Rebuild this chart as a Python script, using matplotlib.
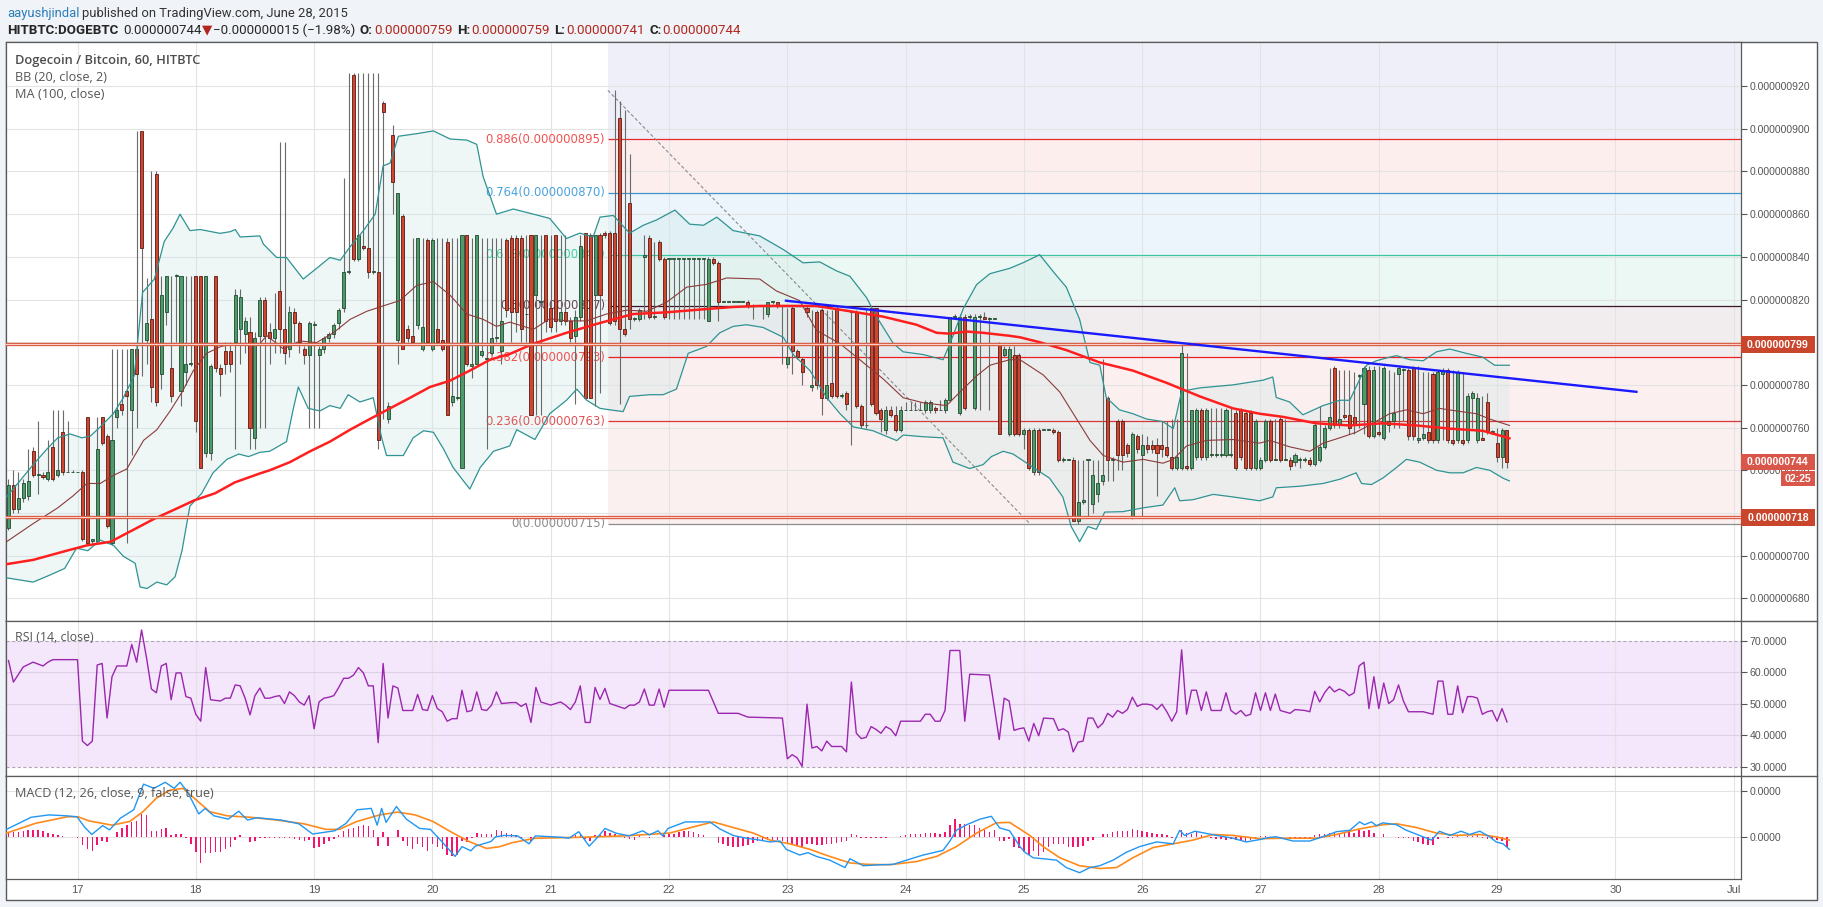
import numpy as np
import matplotlib
matplotlib.use("Agg")
import matplotlib.pyplot as plt
from matplotlib import font_manager
from matplotlib.patches import Rectangle, Polygon

# ------------------------------------------------------------------ data
# candle time axis: hours from 17 Jun 2015 00:00, first candle 16 Jun 10:00
first_hour = -14

opens = [
 713,733,722,727,728,749,738,738,736,751,
 738,758,739,739,739,739,765,707,707,765,
 756,706,765,771,777,768,797,899,801,811,
 879,785,814,788,831,777,786,790,831,831,
 748,748,831,788,796,796,800,806,804,805,
 755,803,820,805,802,824,806,797,814,809,
 797,794,808,794,797,802,804,809,816,833,
 925,839,845,844,833,833,912,764,897,801,
 859,806,803,808,797,848,797,806,801,847,
 772,774,741,850,789,790,794,792,795,802,
 796,848,849,849,849,813,850,822,819,850,
 816,850,810,814,810,803,812,851,850,822,
 850,851,851,851,905,806,865,811,811,840,
 849,812,847,839,839,839,839,839,839,839,
 839,839,810,839,837,819,819,819,819,819,
 819,817,817,817,813,819,819,817,790,816,
 796,792,816,779,814,815,774,781,816,775,
 776,814,814,770,761,816,816,768,759,768,
 766,759,768,768,768,768,768,768,769,768,
 768,773,812,767,812,812,769,812,812,811,
 811,799,794,757,794,794,757,759,739,759,
 759,759,759,758,745,745,745,716,725,745,
 724,729,735,774,745,763,763,752,718,756,
 747,752,752,752,752,751,746,741,741,742,
 741,746,768,746,747,747,747,747,747,767,
 768,767,767,741,741,745,763,745,764,745,
 745,744,745,745,745,743,745,751,760,788,
 761,766,766,765,784,771,787,756,758,755,
 761,763,785,787,787,788,754,755,758,785,
 754,785,787,754,754,754,754,774,754,755,
 772,758,753,746,759]

highs = [
 736,740,739,736,750,751,763,739,754,768,
 768,768,763,740,739,740,765,708,765,765,
 757,797,797,797,797,797,899,899,830,880,
 880,831,831,831,832,831,831,831,831,831,
 831,790,831,790,800,800,825,825,812,812,
 805,821,821,809,823,894,894,817,816,810,
 798,810,810,798,803,805,809,816,877,926,
 926,926,926,926,926,926,913,772,902,870,
 860,808,849,849,849,849,849,849,849,849,
 849,849,850,850,849,850,849,849,849,849,
 849,849,850,850,850,850,850,850,850,850,
 850,850,850,850,812,815,850,851,851,850,
 851,852,852,918,913,909,888,812,816,850,
 850,847,848,840,839,839,839,839,839,839,
 839,839,840,840,838,819,819,819,819,819,
 820,818,817,817,819,819,819,817,816,817,
 797,793,817,815,815,816,815,815,817,776,
 777,815,815,771,815,816,816,769,770,770,
 770,770,772,772,772,772,773,773,770,773,
 774,812,813,813,813,813,813,813,814,812,
 811,800,798,798,798,795,760,760,760,760,
 759,759,760,759,746,745,746,745,745,745,
 745,745,792,775,746,764,764,753,758,757,
 757,756,754,755,763,763,764,764,799,795,
 768,769,769,769,769,769,769,769,769,768,
 769,768,768,764,746,764,764,764,765,764,
 746,748,746,746,746,762,770,761,788,789,
 787,787,787,786,785,789,789,789,789,789,
 787,786,789,788,788,789,789,786,786,786,
 787,788,788,787,787,786,776,777,776,775,
 776,759,760,760,759]

lows = [
 712,720,720,725,726,737,729,736,735,735,
 737,738,739,739,739,707,705,706,706,752,
 713,705,760,766,706,747,760,784,790,772,
 770,778,808,772,800,770,780,789,758,741,
 746,745,786,775,785,786,750,790,795,750,
 750,760,760,790,795,795,790,793,800,795,
 790,760,760,760,795,800,802,806,814,832,
 838,838,843,830,832,750,764,762,860,790,
 797,800,800,806,796,799,796,799,796,766,
 770,773,741,789,783,790,793,750,794,800,
 790,812,800,805,800,800,766,766,766,805,
 805,805,808,808,800,771,810,774,774,770,
 776,849,808,808,771,803,806,810,810,811,
 811,811,838,811,811,811,811,811,811,811,
 811,811,810,836,810,819,819,819,819,819,
 816,811,817,811,812,818,816,790,788,785,
 792,780,812,777,778,766,773,774,774,774,
 768,752,769,760,760,770,766,758,757,765,
 758,758,768,768,768,768,767,767,767,768,
 767,772,811,766,768,811,768,768,811,768,
 811,757,793,756,756,756,750,740,738,738,
 759,759,757,744,744,745,716,715,724,718,
 720,725,733,735,735,740,740,746,717,748,
 718,748,748,728,746,746,740,740,740,740,
 740,745,745,745,746,746,746,746,746,740,
 745,740,740,740,740,744,744,745,744,745,
 740,742,741,744,742,742,744,750,759,760,
 760,764,757,757,760,757,755,755,756,754,
 758,760,760,763,754,754,753,754,753,753,
 753,754,753,752,753,752,753,760,753,754,
 757,757,744,741,741]

closes = [
 733,722,727,734,735,738,738,737,739,736,
 740,739,739,739,739,708,706,708,750,753,
 714,754,768,768,775,797,785,844,809,779,
 772,822,831,775,831,831,790,790,763,741,
 831,789,788,785,790,790,822,821,810,760,
 802,820,803,802,806,806,795,814,809,800,
 794,809,808,797,802,804,808,815,833,833,
 839,850,844,833,833,754,908,770,875,870,
 797,802,800,849,807,800,848,800,797,766,
 775,774,850,790,790,850,796,792,802,802,
 810,815,814,814,806,813,766,850,819,810,
 807,810,814,810,802,812,845,774,774,850,
 822,850,809,810,806,804,811,811,815,841,
 812,812,839,812,839,839,839,839,839,839,
 839,839,839,837,819,819,819,819,819,819,
 817,817,817,817,819,819,817,817,793,796,
 793,786,814,780,780,774,780,775,775,775,
 771,814,770,761,761,771,767,764,768,766,
 759,768,768,768,768,768,772,772,768,768,
 773,812,812,812,769,812,812,812,811,811,
 811,757,797,797,757,757,759,741,759,739,
 759,759,758,745,745,745,716,725,726,745,
 738,734,738,745,745,747,747,748,757,750,
 752,750,750,748,750,747,741,746,795,741,
 768,768,746,768,747,747,747,768,747,741,
 746,741,741,763,745,763,745,745,745,745,
 742,747,745,745,743,761,751,760,765,761,
 764,765,760,761,784,788,756,787,757,788,
 763,767,788,787,756,756,755,757,754,754,
 786,787,754,753,786,753,775,776,774,754,
 758,758,746,759,744]

macd_hist = [
 0.09,0.12,0.12,0.14,0.15,0.16,0.15,0.13,0.09,0.07,0.04,0.02,0.01,0.0,
 -0.02,-0.16,-0.26,-0.29,-0.16,-0.08,-0.10,0.0,0.12,0.21,0.27,0.33,0.35,0.51,0.48,
 0.13,0.13,0.18,0.21,0.04,0.06,0.08,-0.02,-0.14,-0.32,-0.55,-0.34,-0.34,-0.32,-0.32,
 -0.26,-0.20,-0.06,0.04,0.01,-0.10,-0.08,
 -0.02,-0.01,-0.02,-0.01,-0.01,-0.02,-0.02,-0.03,-0.06,-0.08,-0.06,-0.24,-0.20,-0.14,
 -0.08,-0.03,0.04,0.13,0.18,0.21,0.25,0.27,0.25,0.15,-0.18,0.12,-0.18,0.01,0.15,-0.08,
 -0.18,-0.26,-0.14,-0.20,-0.29,-0.14,-0.20,-0.26,-0.38,-0.41,-0.38,-0.08,-0.10,-0.02,
 0.09,0.06,0.06,0.08,0.15,0.13,0.09,
 0.06,0.04,-0.01,0.01,-0.08,0.01,0.01,0.01,0.0,-0.01,0.0,-0.01,-0.01,0.04,0.08,-0.04,
 -0.08,0.04,0.04,0.13,0.09,0.06,0.04,-0.01,-0.04,-0.06,0.04,0.01,-0.01,0.01,0.01,0.04,
 0.06,0.08,0.12,0.13,0.13,0.12,0.08,0.05,0.01,0.0,-0.12,-0.15,-0.18,-0.20,-0.20,-0.18,
 -0.16,-0.12,
 -0.08,-0.06,-0.05,-0.05,-0.06,-0.08,-0.13,-0.15,-0.18,-0.20,-0.14,-0.14,-0.16,-0.16,
 -0.14,-0.14,-0.12,-0.11,-0.08,0.06,0.04,-0.01,-0.02,-0.02,-0.02,-0.02,-0.01,0.0,0.01,
 0.02,0.04,0.06,0.07,0.08,0.09,0.09,0.09,0.08,0.12,0.27,0.39,0.29,0.29,0.27,0.27,0.21,
 0.15,0.12,0.15,-0.08,-0.07,
 -0.04,-0.20,-0.22,-0.32,-0.38,-0.29,-0.41,-0.32,-0.20,-0.14,-0.14,-0.14,-0.20,-0.20,
 -0.20,-0.18,-0.08,-0.06,0.0,0.06,0.08,0.11,0.13,0.13,0.13,0.18,0.15,0.13,0.12,0.09,
 0.07,0.06,0.04,-0.01,0.0,0.15,0.09,0.08,0.12,0.04,0.01,-0.01,-0.04,-0.04,-0.05,-0.04,
 -0.06,-0.06,-0.08,-0.06,-0.02,
 0.02,0.03,0.01,0.02,-0.01,0.0,-0.02,-0.01,-0.02,-0.01,-0.02,0.04,0.06,0.07,0.09,0.09,
 0.08,0.09,0.12,0.09,0.15,0.13,0.15,0.09,0.01,0.07,0.01,0.0,-0.01,-0.01,-0.02,-0.08,
 -0.10,-0.14,-0.16,-0.16,-0.04,0.01,-0.01,-0.01,0.02,0.01,0.02,0.02,0.04,-0.01,-0.04,
 -0.04,-0.06,-0.08,-0.20]

# indicator lines: (hour, value)
ma100 = [(-14.4,696),(-9,698),(-2.2,702.3),(1.9,704.8),(6.7,706.5),(11.5,712.3),(15.6,717.3),
 (19.7,721.6),(23.8,726),(27.9,729.2),(31.9,734.3),(37,738.5),(39,740),(43.1,743.8),(47.2,748.9),
 (51.2,753.4),(55.3,759),(59.3,764),(63.4,769),(67.5,774),(71.5,779),(75.6,782),(79.6,786.7),
 (83.7,791.8),(87.7,794.5),(92.5,799.3),(99.2,804.4),(106,809),(112.7,813.2),(119.5,814),
 (126.3,815.3),(133,816.5),(138.4,817),(143.2,817),(149.9,817),(156.7,814.5),(163.4,812),
 (170.2,808.2),(174.3,804.4),(177,804),(180.4,805),(183.7,804.4),(189.1,803),(191.2,802.3),
 (195.2,800),(200.6,796.3),(207.4,790.5),(214.1,786.7),(220.9,781),(227.7,774.6),(234.4,769),
 (239.8,766.5),(244.6,765),(251.3,762),(258.1,761),(264.8,762),(271.6,761),(278.4,759.5),
 (285.1,758.5),(290.5,755)]

bb_upper = [(-14.4,727.5),(-11.7,735),(-9,742.6),(-6.3,749.7),(-4,755.2),(-1.5,757),(0.9,755.2),
 (2.6,756),(4.6,760.3),(7.3,766.6),(9.3,774),(11.5,784.2),(13.2,823.3),(15.6,829.6),(17.6,847.2),
 (19.4,853.5),(20.8,860),(22.8,852.3),(24.9,852.8),(28.9,851),(31,851.8),(32,852.8),(33,849.3),
 (37,849.8),(37.7,846),(40.4,839.7),(42.4,839.7),(45.8,829.6),(48.5,834.6),(51.2,839.7),
 (53.3,838.4),(55.3,844.7),(58,852.3),(60.4,860),(62,882.6),(63.4,883.9),(65.1,896.5),
 (68.8,897.7),(72.2,899),(75.6,895.2),(79,894.7),(81,892.7),(82.3,877.5),(85,860),(88.4,862.4),
 (92.5,860),(95.8,858),(99.2,848.6),(101.9,851.1),(104.6,849.3),(106,858.6),(108.7,859.4),
 (112,851.1),(114.8,854.8),(117.5,857.3),(121.2,861.9),(124.2,855.3),(127,854.8),(129.7,858.6),
 (133,852.3),(138.4,849.8),(143.2,843.4),(147.2,837.2),(150.6,837.6),(154,833.4),(156.7,830.9),
 (160.1,820.8),(162.1,812),(165.5,799.4),(167.5,795.5),(171.6,794.2),(175.6,791.8),(177,799.3),
 (179.7,815.7),(182.4,827),(185.1,832.1),(189.1,834.6),(191.8,837.2),(195.2,841),(198.3,832.1),
 (200.6,825.8),(203.3,810.7),(205.4,790.5),(207.4,789.2),(208.7,774.1),(211.4,768.3),
 (214.1,766.5),(216.9,764),(220.2,762.8),(222.3,759.5),(224,777),(227.7,778.6),(234.4,780),
 (240.5,782.2),(242.5,783.7),(243.2,774.1),(245.9,772),(248.6,766),(252.7,770.3),(256.1,772.8),
 (258.1,772.8),(259.4,779.1),(261.5,789.2),(263.5,791.3),(266.2,793),(267.6,793.7),(270.3,791.8),
 (273,791.3),(275.7,795.5),(278.4,796.8),(281.7,794.8),(285.1,793),(287.5,789.2),(290.5,789.2)]

bb_lower = [(-14.4,689.6),(-9,687.6),(-5.6,690.9),(-2.6,694),(-0.2,703.5),(2.1,702.3),(4.6,707.3),
 (7.3,704.8),(9.3,699.7),(11.7,696.4),(12.7,685.3),(14.1,684.6),(16.1,687.6),(18.1,686.3),
 (19.8,690.1),(21.2,702.3),(22.8,723.2),(25.2,729.2),(27.5,738.8),(30.3,745.1),(32.7,747.6),
 (34.7,746.4),(37,748.4),(39,748.9),(42.4,753.4),(43.8,769),(44.8,779),(46.8,769),(49.2,767.8),
 (51.2,770.3),(53.3,769),(54.9,775.4),(57.3,772),(60,774),(61.7,755.2),(62.7,746.9),(66.1,746.9),
 (68.1,755.2),(70.2,758.5),(72.2,757.8),(74.2,750.2),(76.2,741.3),(78.3,735),(79.6,731.2),
 (81.7,741.3),(84.4,748.9),(87.7,751.4),(89.1,759),(92.8,754.4),(95.8,766.5),(99.2,772.8),
 (101.3,778),(103.3,772.8),(106,769),(108,768.3),(110.7,767.5),(112,774.6),(116.1,775.4),
 (118.8,775.4),(121.5,778),(123.9,794.8),(127.6,798),(130.3,804.4),(133,807.4),(135.7,808.2),
 (139.1,806.9),(143.2,802.3),(145.2,794.2),(148.6,786.7),(152,774),(154.7,766.5),(157.4,760.3),
 (161.4,758.5),(166.2,753.9),(167.5,756.5),(171.6,755.7),(175.6,755.2),(177.6,743.8),(181,740.8),
 (183.7,742.6),(185.4,746.4),(187.8,748.9),(189.8,747.6),(193.9,741.3),(197.2,736.3),
 (199.9,727.5),(201.6,713.6),(203.3,706.5),(205,713.6),(206.7,712.3),(208.4,720.4),(212.1,720.6),
 (216.2,722.4),(220.2,723.7),(222.6,731.8),(223.6,725.7),(226.3,726.2),(230.4,728.7),
 (234.4,727.5),(239.8,725.7),(242.5,727.5),(243.2,731.8),(247.9,732.5),(252.7,733.8),
 (256.1,735.8),(259.4,738.8),(260.5,733.8),(262.5,733.3),(264.8,736.3),(267.6,741.3),
 (269.6,745.1),(272.3,743.8),(275.7,740),(278.4,738.8),(281.1,738.8),(283.8,741.3),(286.5,740),
 (289.2,736.3),(290.5,735)]

bb_basis = [(-14.4,706.5),(-9,715),(-4,722.4),(-0.9,728),(1.9,733.8),(4.6,733.8),(7.3,737.6),
 (10,740.6),(13.4,754),(16.1,759),(18.8,767.8),(21.2,776.6),(23.5,786.7),(26.2,794.8),(29.1,798),
 (31.7,799.3),(37,799.3),(38.4,803.1),(41.8,796.8),(45.1,800.6),(48.5,799.8),(51.9,804.4),
 (55.3,810.7),(58.7,814.5),(62,817),(65.4,819.5),(68.8,826.6),(72.2,828.4),(75.6,822),(79,813.2),
 (82.3,810.7),(85,807.4),(87.7,809.4),(92.5,806),(95.8,811),(99.2,810),(103.3,810),(107.3,813.2),
 (111.4,815),(115.5,814.5),(119.5,818.7),(123.6,825.8),(127.6,827.1),(131.7,830.1),(138.4,829.6),
 (141.8,824),(146.5,819.5),(149.9,805.6),(154.7,799.3),(158.7,791.8),(163.4,782.9),(167.5,774),
 (171.6,771.6),(176.3,770.3),(179,776.6),(182.4,784.2),(185.1,789.2),(189.1,791.8),(191.2,791.8),
 (195.9,784.7),(199.3,776.6),(202.7,764),(205.4,754),(208.1,746.9),(212.1,743.8),(216.2,745.1),
 (220.2,743.3),(222.3,745.1),(225,751.4),(229.1,754),(234.4,754.4),(239.8,752.7),(241.9,754),
 (245.9,751),(250,748.9),(252.7,752.7),(256.1,755.2),(259.4,757.8),(262.8,762),(266.2,766.5),
 (269.6,768.3),(273,766.5),(276.3,769),(279.7,767.8),(283.8,766.5),(286.5,764),(290.5,761)]

rsi = [(-14,63.7),(-13,56.9),(-11,61.7),(-9,63.2),(-7,62.0),(-6,63.2),(-5,64.0),(0,64.0),(1,38.2),
 (2,36.8),(3,38.2),(4,62.3),(5,62.8),(6,45.5),(7,58.6),(8,62.0),(10,62.0),(11,68.8),(12,63.2),
 (13,73.4),(14,64.6),(15,54.7),(16,53.5),(17,62.0),(18,62.8),(19,51.3),(20,59.8),(21,59.8),
 (22,52.3),(23,51.8),(24,46.7),(25,44.5),(26,61.5),(27,51.3),(29,50.9),(30,51.8),(31,51.8),
 (32,56.0),(33,55.7),(34,51.8),(35,46.5),(36,52.6),(37,55.0),(38,51.8),(39,51.8),(40,52.3),
 (41,52.6),(42,50.1),(43,53.8),(44,52.6),(45,50.6),(46,49.6),(47,52.6),(48,42.1),(49,50.6),
 (50,51.8),(51,52.1),(52,52.6),(53,55.2),(54,58.1),(55,58.1),(56,59.1),(57,61.5),(58,59.8),
 (59,55.7),(60,55.7),(61,37.7),(62,62.8),(63,45.5),(64,55.7),(65,55.0),(66,47.9),(68,47.9),
 (69,53.0),(70,48.2),(71,47.9),(72,52.6),(73,48.5),(74,47.5),(75,44.5),(76,45.3),(77,45.3),
 (78,54.3),(79,47.5),(80,47.9),(81,53.8),(82,48.2),(83,47.9),(84,49.6),(85,53.8),(86,50.1),
 (88,50.4),(89,50.4),(90,49.2),(91,50.1),(92,44.1),(93,55.2),(94,50.6),(96,49.6),(98,50.6),
 (99,49.6),(100,48.2),(101,50.6),(102,55.7),(103,44.1),(104,44.1),(105,55.2),(106,51.4),
 (107,54.9),(108,50.1),(111,48.5),(112,49.6),(113,49.6),(114,50.6),(115,54.7),(116,49.6),
 (117,49.6),(118,54.7),(119,48.9),(120,54.3),(128,54.3),(130,47.0),(134,47.0),(136,45.8),
 (143,45.5),(144,32.6),(145,33.9),(146,32.9),(147,30.2),(148,49.9),(149,36.0),(150,36.5),
 (151,35.1),(152,38.2),(153,36.5),(155,36.5),(156,34.8),(157,56.9),(158,40.7),(159,39.0),
 (160,39.4),(161,42.8),(162,41.9),(163,40.7),(164,42.8),(165,41.9),(166,39.9),(167,44.5),
 (171,44.5),(172,46.7),(173,46.7),(174,44.5),(175,44.5),(176,47.9),(177,66.9),(179,66.9),
 (180,44.5),(181,59.4),(185,59.1),(187,38.7),(188,51.8),(189,50.9),(190,41.6),(191,42.1),
 (192,42.4),(193,38.2),(194,43.8),(195,39.9),(196,45.5),(198,45.3),(199,41.6),(200,42.1),
 (201,41.1),(202,34.8),(203,37.9),(204,38.2),(205,45.5),(206,45.5),(207,42.4),(208,43.8),
 (209,47.0),(210,45.8),(211,47.9),(212,47.0),(213,48.2),(214,52.1),(215,49.2),(216,49.9),
 (217,49.9),(218,49.6),(219,48.2),(220,49.9),(221,47.5),(222,44.5),(223,47.5),(224,67.1),
 (225,46.7),(226,54.3),(227,54.3),(228,47.9),(229,53.8),(230,47.9),(232,47.9),(233,53.5),
 (234,47.9),(235,46.7),(236,47.9),(237,46.2),(238,46.7),(239,53.5),(240,47.9),(241,53.5),
 (242,47.9),(243,53.1),(244,47.9),(246,47.0),(247,48.2),(249,47.9),(250,47.5),(251,54.0),
 (252,50.6),(253,53.5),(254,55.5),(255,53.8),(256,54.7),(257,54.0),(258,52.6),(259,53.5),
 (260,62.0),(261,63.2),(262,48.5),(263,58.6),(264,48.5),(265,56.6),(266,50.1),(267,51.3),
 (268,56.0),(269,50.9),(270,47.5),(273,47.5),(275,46.7),(276,57.2),(277,57.2),(278,46.7),
 (279,46.7),(280,55.7),(281,47.2),(282,52.3),(283,52.3),(284,51.8),(285,46.7),(286,47.5),
 (287,47.9),(288,44.5),(289,48.5),(290,44.3)]

macd_line = [(-14.4,0.17),(-9.4,0.43),(-5.8,0.48),(-2.1,0.46),(-0.1,0.44),(1.5,0.21),(2.9,0.06),
 (5.1,0.25),(6.5,0.16),(8.7,0.41),(11.4,0.59),(13.4,1.14),(15.5,1.05),(17.8,1.18),(19.6,1.05),
 (20.8,1.18),(22.3,0.98),(24.6,0.50),(25.9,0.62),(27.7,0.46),(30.6,0.39),(32.7,0.56),(34.5,0.37),
 (36.4,0.42),(41.3,0.37),(44.9,0.29),(47.7,0.07),(52.2,0.14),(54.5,0.30),(56.7,0.59),(59.6,0.62),
 (60.8,0.26),(61.7,0.62),(62.6,0.32),(64.7,0.66),(66.7,0.39),(69.4,0.19),(71.6,0.17),(73.9,-0.09),
 (76.6,-0.41),(78.0,-0.20),(79.8,-0.29),(80.7,-0.19),(83.9,-0.09),(84.8,0.01),(86.6,0.04),
 (89.3,0.03),(91.6,-0.14),(92.9,0.03),(98.3,0.0),(99.7,-0.02),(101.7,0.12),(103.8,-0.19),
 (105.6,0.01),(107.0,0.19),(109.2,0.09),(111.9,0.03),(114.7,0.14),(116.0,0.05),(117.8,0.14),
 (118.7,0.03),(119.8,0.19),(123.3,0.33),(128.3,0.33),(130.3,0.18),(133.0,0.04),(135.7,-0.02),
 (138.4,-0.06),(140.5,-0.10),(142.5,-0.08),(143.8,-0.26),(146.5,-0.38),(148.2,-0.33),
 (149.9,-0.41),(152.6,-0.49),(155.7,-0.65),(156.7,-0.46),(159.4,-0.61),(162.8,-0.59),
 (165.5,-0.58),(168.2,-0.49),(171.6,-0.38),(175.6,-0.28),(177.0,-0.08),(178.3,0.15),(180.4,0.27),
 (183.1,0.39),(185.4,0.45),(187.1,0.20),(189.1,0.14),(191.2,-0.20),(192.2,-0.32),(193.9,-0.44),
 (195.9,-0.46),(198.6,-0.49),(200.6,-0.65),(203.3,-0.76),(205.4,-0.65),(207.4,-0.61),
 (210.1,-0.49),(212.8,-0.32),(215.5,-0.20),(218.9,-0.10),(222.3,-0.14),(223.6,0.15),(224.6,0.04),
 (226.7,0.13),(228.7,0.09),(231.1,0.04),(234.4,-0.02),(237.1,-0.10),(239.8,-0.05),(241.9,0.0),
 (243.2,0.01),(246.6,-0.08),(250.0,-0.08),(253.4,0.04),(255.4,0.12),(258.1,0.15),(260.1,0.33),
 (261.1,0.27),(262.5,0.33),(263.5,0.25),(264.8,0.31),(267.6,0.27),(269.6,0.15),(272.3,0.04),
 (274.7,-0.06),(276.3,0.13),(278.4,0.04),(280.7,0.13),(282.4,0.06),(284.5,0.13),(286.5,0.01),
 (287.8,-0.10),(289.2,-0.14),(290.5,-0.26)]

signal_line = [(-14.4,0.09),(-8.5,0.30),(-2.1,0.44),(0.1,0.44),(2.4,0.35),(7.0,0.26),(10.6,0.34),
 (13.3,0.55),(16.0,0.84),(18.7,1.01),(21.4,1.05),(24.1,0.80),(26.8,0.55),(30.4,0.46),(35.0,0.43),
 (40.4,0.37),(45.9,0.29),(50.4,0.17),(53.1,0.17),(56.7,0.34),(61.3,0.48),(64.9,0.54),(68.5,0.48),
 (72.1,0.34),(75.7,0.12),(79.4,-0.09),(83.0,-0.24),(85.7,-0.20),(88.4,-0.11),(92.9,-0.02),
 (102.0,0.0),(111.0,0.03),(115.6,0.06),(120.1,0.09),(126.3,0.26),(129.0,0.33),(133.0,0.21),
 (137.1,0.09),(140.5,-0.06),(144.5,-0.14),(148.6,-0.26),(152.6,-0.41),(156.7,-0.55),
 (160.1,-0.58),(164.8,-0.59),(170.2,-0.52),(174.3,-0.41),(178.3,-0.20),(182.4,0.09),(186.4,0.31),
 (189.1,0.32),(193.2,0.04),(195.9,-0.20),(199.3,-0.44),(203.3,-0.61),(207.4,-0.67),(210.8,-0.65),
 (214.1,-0.44),(218.2,-0.22),(222.3,-0.14),(226.3,-0.06),(230.4,0.06),(234.4,0.04),(239.8,-0.03),
 (244.6,-0.02),(251.3,-0.02),(255.4,0.06),(260.1,0.18),(264.8,0.27),(267.6,0.29),(271.6,0.21),
 (275.7,0.09),(279.7,0.04),(284.5,0.06),(287.8,0.01),(290.5,-0.06)]

# drawings
fib_ratios = ["0.886", "0.764", "0.618", "0.5", "0.382", "0.236", "0"]
fib_prices = [895, 870, 841, 817, 793, 763, 715]
fib_anchor_hours = [107.6, 193.2]
fib_anchor_prices = [918, 715]
trend_hours = [143.5, 316.5]
trend_prices = [819.5, 776.7]
sr_prices = [799, 718]
last_price = 744

price_ticks = [680, 700, 720, 740, 760, 780, 800, 820, 840, 860, 880, 900, 920]
hidden_price_labels = [800, 720]   # covered by the price boxes in the original
rsi_ticks = [30, 40, 50, 60, 70]
day_labels = ["17", "18", "19", "20", "21", "22", "23", "24", "25", "26", "27", "28", "29", "30", "Jul"]
day_hours = [24 * i for i in range(len(day_labels))]

# ------------------------------------------------------------------ fonts
avail = {f.name for f in font_manager.fontManager.ttflist}
def pick(*names):
    for n in names:
        if n in avail:
            return n
    return "DejaVu Sans"
F_HDR = pick("Liberation Sans Narrow", "Roboto", "Open Sans")
F_AX = pick("Liberation Sans", "Arial")
F_LEG = pick("Open Sans", "Noto Sans", "Lato")
F_FIB = "DejaVu Sans"

# ------------------------------------------------------------------ layout
W, H, DPI = 1824, 907, 100
fig = plt.figure(figsize=(W / DPI, H / DPI), dpi=DPI, facecolor="#f0f3f7")
def fx(x): return x / W
def fy(y): return 1 - y / H

L, R = 6, 1741
TOP, SEP1, SEP2, BOT, FRAME_B, FRAME_R = 42, 621, 776, 879, 900, 1817
FRAME = "#5a5a5a"

bg = fig.add_axes([0, 0, 1, 1], zorder=-5)
bg.set_xlim(0, W); bg.set_ylim(H, 0); bg.axis("off")
bg.add_patch(Rectangle((L, TOP), FRAME_R - L, FRAME_B - TOP, facecolor="white",
                       edgecolor=FRAME, lw=1.0))
for yy in (SEP1, SEP2):
    bg.plot([L, FRAME_R], [yy, yy], color=FRAME, lw=1.0)

def panel(top, bot):
    a = fig.add_axes([fx(L), fy(bot), (R - L) / W, (bot - top) / H])
    for s in a.spines.values():
        s.set_color(FRAME); s.set_linewidth(0.9)
    return a

ax = panel(TOP, SEP1)
ax_r = panel(SEP1, SEP2)
ax_m = panel(SEP2, BOT)

px_per_hour = 118.3 / 24
xmin = -(77.5 - L) / px_per_hour
xmax = (R - 77.5) / px_per_hour
for a in (ax, ax_r, ax_m):
    a.set_xlim(xmin, xmax)
    for h in day_hours:
        a.axvline(h, color="#e3e3e3", lw=0.8, zorder=0.8)

ax.set_ylim(669.37, 940.66)
ax_r.set_ylim(27.15, 76.24)
ax_m.set_ylim(-0.895, 1.315)

# ------------------------------------------------------------------ main panel
for p in price_ticks:
    ax.axhline(p, color="#e3e3e3", lw=0.8, zorder=0.8)

fib_start = fib_anchor_hours[0]
band_edges = [ax.get_ylim()[1]] + fib_prices
band_colors = ["#efeff9", "#fdeeee", "#ecf5fb", "#ecf8f3", "#f1edef", "#fcefef", "#fbf0f0"]
for i, col in enumerate(band_colors):
    ax.fill_between([fib_start, xmax], band_edges[i + 1], band_edges[i], color=col, lw=0, zorder=0.3)

fib_line_colors = ["#ea2a2a", "#3d95d0", "#3dc7a0", "#3d1428", "#f01e1e", "#d93838", "#8c8c8c"]
fib_text_colors = ["#f25252", "#4aa3de", "#40d0a4", "#6b4556", "#f25252", "#e05555", "#8c8c8c"]
for r_, p, lc, tc in zip(fib_ratios, fib_prices, fib_line_colors, fib_text_colors):
    ax.hlines(p, fib_start, xmax, color=lc, lw=0.9, zorder=1.5)
    ax.annotate(f"{r_}({p * 1e-9:.9f})", xy=(fib_start, p), xytext=(-3, 0),
                textcoords="offset pixels", ha="right", va="center", color=tc,
                fontsize=8.4, family=F_FIB, zorder=1.6)
ax.plot(fib_anchor_hours, fib_anchor_prices, ls=(0, (3, 2)), color="#8a8a8a", lw=0.8, zorder=2)

# Bollinger band fill + lines
ub = np.array(bb_upper); lb = np.array(bb_lower); mb = np.array(bb_basis)
poly = np.vstack([ub, lb[::-1]])
ax.add_patch(Polygon(poly, closed=True, facecolor="#cfe8e8", alpha=0.35, lw=0, zorder=1.0))

# candles
n = min(len(opens), len(highs), len(lows), len(closes))
hours = np.arange(first_hour, first_hour + n)
o = np.array(opens[:n], float); c = np.array(closes[:n], float)
hi = np.array(highs[:n], float); lo = np.array(lows[:n], float)
up = c >= o
ax.vlines(hours, lo, hi, color="#6a6a6a", lw=0.8, zorder=3)
bot_ = np.minimum(o, c)
hgt = np.maximum(np.abs(c - o), 0.4)
ax.bar(hours[up], hgt[up], bottom=bot_[up], width=0.62, color="#4f9a6b",
       edgecolor="#1f4a2e", linewidth=0.6, zorder=3.5)
ax.bar(hours[~up], hgt[~up], bottom=bot_[~up], width=0.62, color="#d0452f",
       edgecolor="#5a1a12", linewidth=0.6, zorder=3.5)

ax.plot(ub[:, 0], ub[:, 1], color="#2f9393", lw=0.9, zorder=4)
ax.plot(lb[:, 0], lb[:, 1], color="#2f9393", lw=0.9, zorder=4)
ax.plot(mb[:, 0], mb[:, 1], color="#8c3b3b", lw=0.8, zorder=4)
ma = np.array(ma100)
ax.plot(ma[:, 0], ma[:, 1], color="#ff1f1f", lw=1.8, zorder=4.5)

for p in sr_prices:
    ax.axhline(p, color="#db5a40", lw=2.4, zorder=4.6)
    ax.axhline(p, color="#f7cfc6", lw=0.8, zorder=4.7)

ax.plot(trend_hours, trend_prices, color="#1a1aff", lw=1.7, zorder=5, solid_capstyle="butt")

ax.yaxis.tick_right()
ax.set_yticks(price_ticks)
ax.set_yticklabels(["" if v in hidden_price_labels else f"{v * 1e-9:.9f}" for v in price_ticks])
ax.set_xticks([])

# ------------------------------------------------------------------ RSI panel
ax_r.axhspan(30, 70, color="#f4e6fb", lw=0, zorder=0.2)
for v in (40, 50, 60):
    ax_r.axhline(v, color="#ddd0e6", lw=0.8, zorder=0.9)
for v in (30, 70):
    ax_r.axhline(v, color="#b3a6b6", lw=0.8, ls=(0, (3, 2)), zorder=0.9)
rs = np.array(rsi)
ax_r.plot(rs[:, 0], rs[:, 1], color="#9b27ae", lw=1.0, zorder=3)
ax_r.yaxis.tick_right()
ax_r.set_yticks(rsi_ticks)
ax_r.set_yticklabels([f"{v:.4f}" for v in rsi_ticks])
ax_r.set_xticks([])

# ------------------------------------------------------------------ MACD panel
for v in (0, 1):
    ax_m.axhline(v, color="#e3e3e3", lw=0.8, zorder=0.9)
nh = min(len(macd_hist), n)
ax_m.bar(hours[:nh], macd_hist[:nh], width=0.3, color="#f2156f", lw=0, zorder=2)
ml = np.array(macd_line); sl = np.array(signal_line)
ax_m.plot(sl[:, 0], sl[:, 1], color="#ff8a1c", lw=1.2, zorder=3)
ax_m.plot(ml[:, 0], ml[:, 1], color="#2196f3", lw=1.0, zorder=3.2)
ax_m.yaxis.tick_right()
ax_m.set_yticks([0, 1])
ax_m.set_yticklabels(["0.0000", "0.0000"])
ax_m.set_xticks(day_hours)
ax_m.set_xticklabels(day_labels)

for a, fs in ((ax, 7.5), (ax_r, 7.6), (ax_m, 7.6)):
    a.tick_params(axis="y", direction="out", length=4, width=0.8, color="#555555",
                  pad=2, labelsize=fs, labelcolor="#555555")
    for t in a.get_yticklabels():
        t.set_family(F_AX)
ax_m.tick_params(axis="x", length=0, pad=4, labelsize=8, labelcolor="#555555")
for t in ax_m.get_xticklabels():
    t.set_family(F_AX)

# ------------------------------------------------------------------ overlay (price boxes)
ov = fig.add_axes([0, 0, 1, 1], zorder=20)
ov.set_xlim(0, W); ov.set_ylim(H, 0); ov.axis("off")
def price_y(p):
    y0, y1 = ax.get_ylim()
    return TOP + (y1 - p) / (y1 - y0) * (SEP1 - TOP)
def box(x0, x1, yc, hgt_, col, s):
    ov.add_patch(Rectangle((x0, yc - hgt_ / 2), x1 - x0, hgt_, facecolor=col, lw=0))
    ov.text((x0 + x1) / 2, yc + 0.5, s, color="white", fontsize=7.6, fontweight="bold",
            family=F_AX, ha="center", va="center")
for p in sr_prices:
    box(R, 1815, price_y(p), 17, "#c9452c", f"{p * 1e-9:.9f}")
yl = price_y(last_price)
box(R, 1815, yl, 16, "#d8564a", f"{last_price * 1e-9:.9f}")
box(1781, 1815, yl + 17, 15, "#d8564a", "02:25")

# ------------------------------------------------------------------ texts
fig.canvas.draw()
rend = fig.canvas.get_renderer()

def fit_text(x, y, s, width, size0=9.0, **kw):
    t = fig.text(fx(x), fy(y), s, fontsize=size0, ha="left", va="center", **kw)
    w = t.get_window_extent(renderer=rend).width
    t.set_fontsize(size0 * width / w)
    return t

def compose(x, y, pieces, width, size0=10.0):
    items = []
    cx = x
    for s, kw, gap in pieces:
        t = fig.text(fx(cx), fy(y), s, fontsize=size0, ha="left", va="baseline", **kw)
        w = t.get_window_extent(renderer=rend).width
        items.append((t, w, gap))
        cx += w + gap
    scale = width / (cx - x)
    cx = x
    for t, w, gap in items:
        t.set_fontsize(size0 * scale)
        t.set_x(fx(cx))
        cx += (w + gap) * scale

hdr = [F_HDR, "DejaVu Sans"]
dark = "#262626"
red = "#b3261e"
compose(7, 17.3, [
    ("aayushjindal", dict(color="#2a7db8", family=hdr), 3),
    ("published on TradingView.com, June 28, 2015", dict(color="#333333", family=hdr), 0)],
    342)
compose(7, 33.6, [
    ("HITBTC:DOGEBTC", dict(color=dark, family=hdr, fontweight="bold"), 5),
    ("0.000000744", dict(color=dark, family=hdr), 0.5),
    ("\u25bc", dict(color="#b3261e", family=["DejaVu Sans"]), 1.5),
    ("\u22120.000000015 (\u22121.98%)", dict(color=dark, family=hdr), 5),
    ("O:", dict(color=dark, family=hdr, fontweight="bold"), 1),
    ("0.000000759", dict(color=red, family=hdr), 5),
    ("H:", dict(color=dark, family=hdr, fontweight="bold"), 1),
    ("0.000000759", dict(color=red, family=hdr), 5),
    ("L:", dict(color=dark, family=hdr, fontweight="bold"), 1),
    ("0.000000741", dict(color=red, family=hdr), 5),
    ("C:", dict(color=dark, family=hdr, fontweight="bold"), 1),
    ("0.000000744", dict(color=red, family=hdr), 0)],
    734)

leg = "#555555"
fit_text(15, 60.2, "Dogecoin / Bitcoin, 60, HITBTC", 186, color="#4d4d4d", family=F_LEG,
         fontweight="semibold")
fit_text(15, 77.5, "BB (20, close, 2)", 92, color=leg, family=F_LEG)
fit_text(15, 94.7, "MA (100, close)", 89, color=leg, family=F_LEG)
fit_text(15, 637.3, "RSI (14, close)", 79, color=leg, family=F_LEG)
fit_text(15, 793.7, "MACD (12, 26, close, 9, false, true)", 199, color=leg, family=F_LEG)

fig.savefig("out.png", dpi=DPI, facecolor=fig.get_facecolor())
